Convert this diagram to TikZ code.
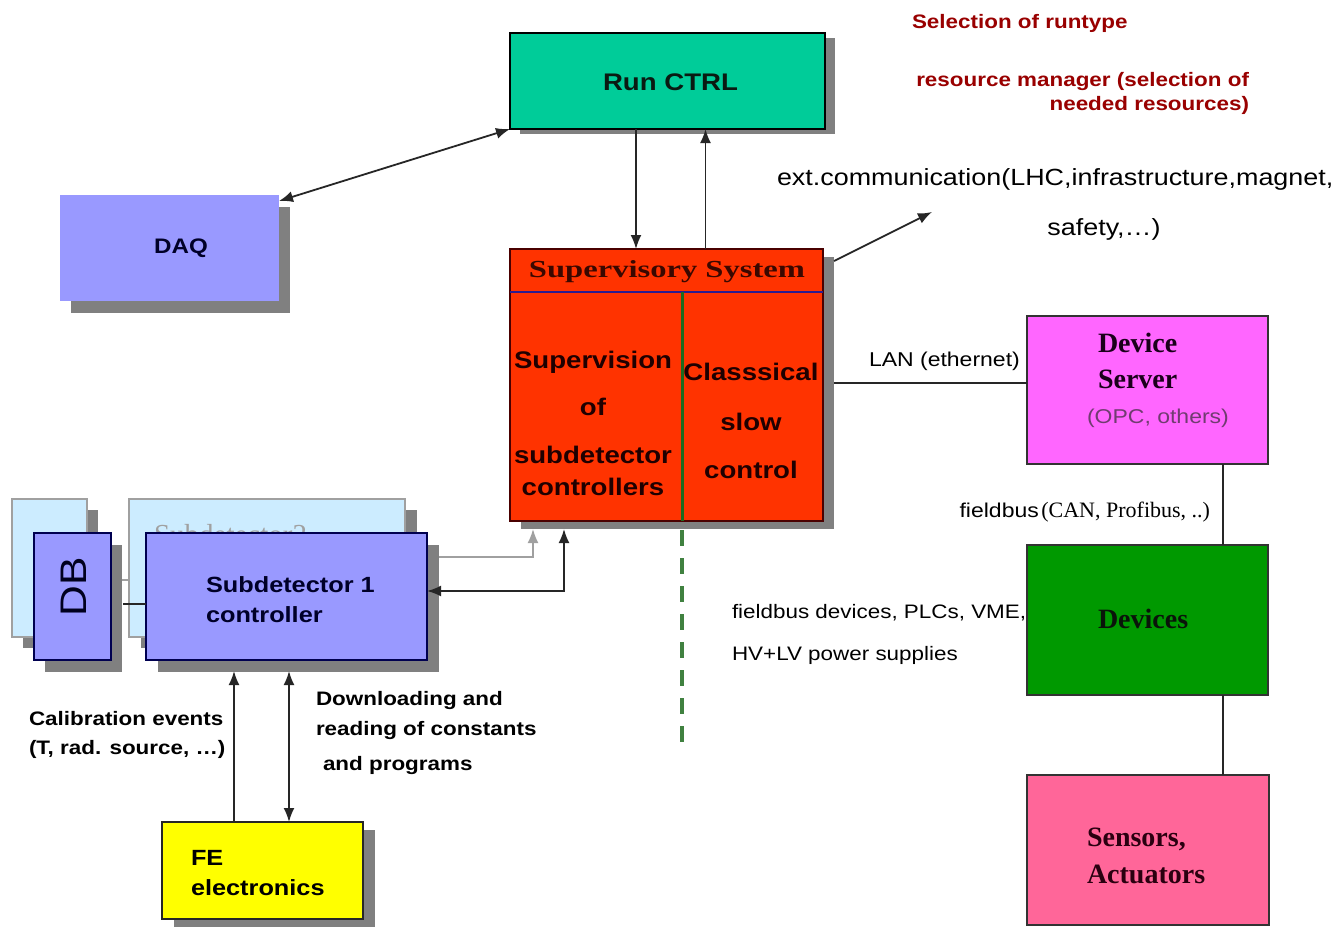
\documentclass[tikz,border=0pt]{standalone}
\usepackage{fontspec}
\setmainfont{Liberation Serif}
\setsansfont{Liberation Sans}[FakeStretch=1.15]
\newfontfamily\titleserif{Liberation Serif}[FakeStretch=1.33]
\usetikzlibrary{shadows,arrows.meta}
\newcommand\fsz[1]{\fontsize{#1}{#1}\selectfont}

\definecolor{runfill}{HTML}{00CC99}
\definecolor{blufill}{HTML}{9999FF}
\definecolor{supfill}{HTML}{FF3300}
\definecolor{srvfill}{HTML}{FF66FF}
\definecolor{devfill}{HTML}{009900}
\definecolor{senfill}{HTML}{FF6699}
\definecolor{fefill}{HTML}{FFFF00}
\definecolor{ghostfill}{HTML}{CCECFF}
\definecolor{ghostline}{HTML}{A0A0A0}
\definecolor{shadowgray}{HTML}{808080}
\definecolor{notered}{HTML}{990000}
\definecolor{slowgreen}{HTML}{1E6B1E}
\definecolor{supline}{HTML}{4A0000}
\definecolor{hdrline}{HTML}{2B1B8F}
\definecolor{navyline}{HTML}{000050}
\definecolor{opcgray}{HTML}{703C70}
\definecolor{titlebrown}{HTML}{3A0800}

\begin{document}
\begin{tikzpicture}[x=1pt,y=-1pt,
  box/.style={rectangle,inner sep=0pt,outer sep=0pt,anchor=north west,line width=1.4pt},
  shd/.style 2 args={drop shadow={shadow xshift=#1pt,shadow yshift=-#2pt,fill=shadowgray,opacity=1}},
  txt/.style={inner sep=0pt,outer sep=0pt},
  blab/.style={txt,font=\sffamily\bfseries\fsz{19.5}},
  inbox/.style={txt,font=\sffamily\bfseries\fsz{22}},
  supcol/.style={txt,anchor=base,font=\sffamily\bfseries\fsz{24},text={rgb,255:red,31;green,0;blue,0}},
  devlab/.style={txt,anchor=base west,font=\rmfamily\bfseries\fsz{28}},
  link/.style={line width=1.8pt,draw=black!85},
  tip/.style={-{Latex[length=14pt,width=11pt]}},
  both/.style={{Latex[length=14pt,width=11pt]}-{Latex[length=14pt,width=11pt]}},
]
\useasboundingbox (0,0) rectangle (1335,927);
\fill[white] (0,0) rectangle (1335,927);

% ---- upper blocks
\node[box,fill=runfill,draw=black,shd={10}{5},minimum width=315pt,minimum height=96pt] (runctrl) at (510,33) {};
\node[box,fill=blufill,shd={11}{12},minimum width=219pt,minimum height=106pt] (daq) at (60,195) {};
\node[box,fill=supfill,draw=supline,shd={11}{8},minimum width=313pt,minimum height=272pt] (sup) at (510,249) {};

% ---- subdetector stack (rear copies first)
\node[box,fill=ghostfill,draw=ghostline,line width=1.2pt,shd={11}{11},minimum width=75pt,minimum height=138pt] (backdb) at (12,499) {};
\node[box,fill=ghostfill,draw=ghostline,line width=1.2pt,shd={12}{11},minimum width=276pt,minimum height=138pt] (sub2) at (129,499) {};
\node[txt,anchor=base west,font=\rmfamily\fsz{29},text=ghostline] (sub2name) at (154,544) {Subdetector2};

\coordinate (ghostlink) at (100,580);
\coordinate (ghostbend) at (533,557);
\coordinate (ghosttip) at (533,529);
\draw[line width=1.4pt,ghostline] (backdb.east |- ghostlink) -- (sub2.west |- ghostlink);
\draw[line width=1.8pt,draw=ghostline,tip] (sub2.east |- ghostbend) -- (ghostbend) -- (ghosttip);

\node[box,fill=blufill,draw=navyline,shd={11}{12},minimum width=77pt,minimum height=127pt] (db) at (34,533) {};
\node[box,fill=blufill,draw=navyline,shd={12}{12},minimum width=281pt,minimum height=127pt] (sub1) at (146,533) {};
\node[box,fill=fefill,draw=black!85,shd={12}{8},minimum width=201pt,minimum height=97pt] (fe) at (162,822) {};

% ---- field side
\node[txt,anchor=base west,font=\sffamily\fsz{19.5}] (fbdev) at (732,618) {fieldbus devices, PLCs, VME,};
\node[txt,anchor=base west,font=\sffamily\fsz{19.5}] (hvlv) at (732,660) {HV+LV power supplies};
\node[box,fill=srvfill,draw=black!80,line width=1.2pt,minimum width=241pt,minimum height=148pt] (devsrv) at (1027,316) {};
\node[box,fill=devfill,draw=black!80,line width=1.2pt,minimum width=241pt,minimum height=150pt] (devices) at (1027,545) {};
\node[box,fill=senfill,draw=black!80,line width=1.2pt,minimum width=242pt,minimum height=150pt] (sensors) at (1027,775) {};

% ---- inside the supervisory block
\coordinate (hdr) at (0,292);
\coordinate (split) at (682,292);
\draw[line width=1.2pt,hdrline] (sup.west |- hdr) -- (sup.east |- hdr);
\draw[line width=3pt,slowgreen] (split) -- (split |- sup.south);
\draw[line width=4pt,slowgreen!85,dash pattern=on 16pt off 12pt] (682,530) -- (682,752);

\node[txt,anchor=base,font=\titleserif\bfseries\fsz{24.5},text=titlebrown] (suptitle) at (667,277) {Supervisory System};
\node[supcol] (sv1) at (593,368) {Supervision};
\node[supcol] (sv2) at (593,415) {of};
\node[supcol] (sv3) at (593,463) {subdetector};
\node[supcol] (sv4) at (593,495) {controllers};
\node[supcol] (cs1) at (751,380) {Classsical};
\node[supcol] (cs2) at (751,430) {slow};
\node[supcol] (cs3) at (751,478) {control};

% ---- box labels
\node[txt,anchor=base,font=\sffamily\bfseries\fsz{24},text={rgb,255:red,10;green,26;blue,18}] (runlabel) at (670.5,90) {Run CTRL};
\node[txt,anchor=base,font=\sffamily\bfseries\fsz{21},text={rgb,255:red,0;green,0;blue,40}] (daqlabel) at (181,253) {DAQ};
\node[txt,rotate=90,font=\sffamily\fsz{37},text={rgb,255:red,0;green,0;blue,30}] (dblabel) at (74,587) {DB};
\node[inbox,anchor=base west,text={rgb,255:red,0;green,0;blue,40}] (sub1a) at (206,592) {Subdetector 1};
\node[inbox,anchor=base west,text={rgb,255:red,0;green,0;blue,40}] (sub1b) at (206,622) {controller};
\node[inbox,anchor=base west] (fea) at (191,865) {FE};
\node[inbox,anchor=base west] (feb) at (191,895) {electronics};
\node[devlab,text={rgb,255:red,26;green,0;blue,26}] (srva) at (1098,352) {Device};
\node[devlab,text={rgb,255:red,26;green,0;blue,26}] (srvb) at (1098,388) {Server};
\node[txt,anchor=base west,font=\sffamily\fsz{20},text=opcgray] (opc) at (1087,423) {(OPC, others)};
\node[devlab,text={rgb,255:red,10;green,20;blue,10}] (devlabel) at (1098,628) {Devices};
\node[devlab,text={rgb,255:red,42;green,0;blue,16}] (sena) at (1087,846) {Sensors,};
\node[devlab,text={rgb,255:red,42;green,0;blue,16}] (senb) at (1087,883) {Actuators};

% ---- connectors
\coordinate (dbtap) at (123,604);
\coordinate (ctrlbend) at (564,591);
\coordinate (ctrltip) at (564,529);
\coordinate (calup) at (234,671);
\coordinate (dlup) at (289,671);
\coordinate (rcdown) at (636,0);
\coordinate (rcup) at (705.5,0);
\coordinate (extstart) at (834,261);
\coordinate (extend) at (932,212);
\coordinate (lan) at (834,383);
\coordinate (fb) at (1223,0);

\draw[link] (dbtap) -- (sub1.west |- dbtap);
\draw[link,both] (sub1.east |- ctrlbend) -- (ctrlbend) -- (ctrltip);
\draw[link,tip] (calup |- fe.north) -- (calup);
\draw[link,both] (dlup) -- (dlup |- fe.north);
\draw[link,tip] (rcdown |- runctrl.south) -- (rcdown |- sup.north);
\draw[link,tip] (rcup |- sup.north) -- (rcup |- runctrl.south);
\draw[link,both] ([yshift=-6pt]daq.north east) -- (runctrl.south west);
\draw[link,tip] (extstart) -- (extend);
\draw[link] (lan) -- (lan -| devsrv.west);
\draw[link] (fb |- devsrv.south) -- (fb |- devices.north);
\draw[link] (fb |- devices.south) -- (fb |- sensors.north);

% ---- free labels
\node[blab,anchor=base west,text=notered] (runtype) at (912,28) {Selection of runtype};
\node[blab,anchor=base east,text=notered] (resmgr1) at (1249,86) {resource manager (selection of};
\node[blab,anchor=base east,text=notered] (resmgr2) at (1249,110) {needed resources)};
\node[txt,anchor=base west,font=\sffamily\fsz{23.4}] (ext1) at (777,185) {ext.communication(LHC,infrastructure,magnet,};
\node[txt,anchor=base,font=\sffamily\fsz{23.4}] (ext2) at (1104,235) {safety,…)};
\node[txt,anchor=base west,font=\sffamily\fsz{20}] (lanlabel) at (869,366) {LAN (ethernet)};
\node[txt,anchor=base east] (fblabel) at (1210,517) {{\sffamily\fsz{20}fieldbus} {\rmfamily\fsz{22}(CAN, Profibus, ..)}};
\node[blab,anchor=base west] (cal1) at (29,725) {Calibration events};
\node[blab,anchor=base west] (cal2) at (29,754) {(T, rad. source, …)};
\node[blab,anchor=base west] (dl1) at (316,705) {Downloading and};
\node[blab,anchor=base west] (dl2) at (316,735) {reading of constants};
\node[blab,anchor=base west] (dl3) at (323,770) {and programs};
\end{tikzpicture}
\end{document}
